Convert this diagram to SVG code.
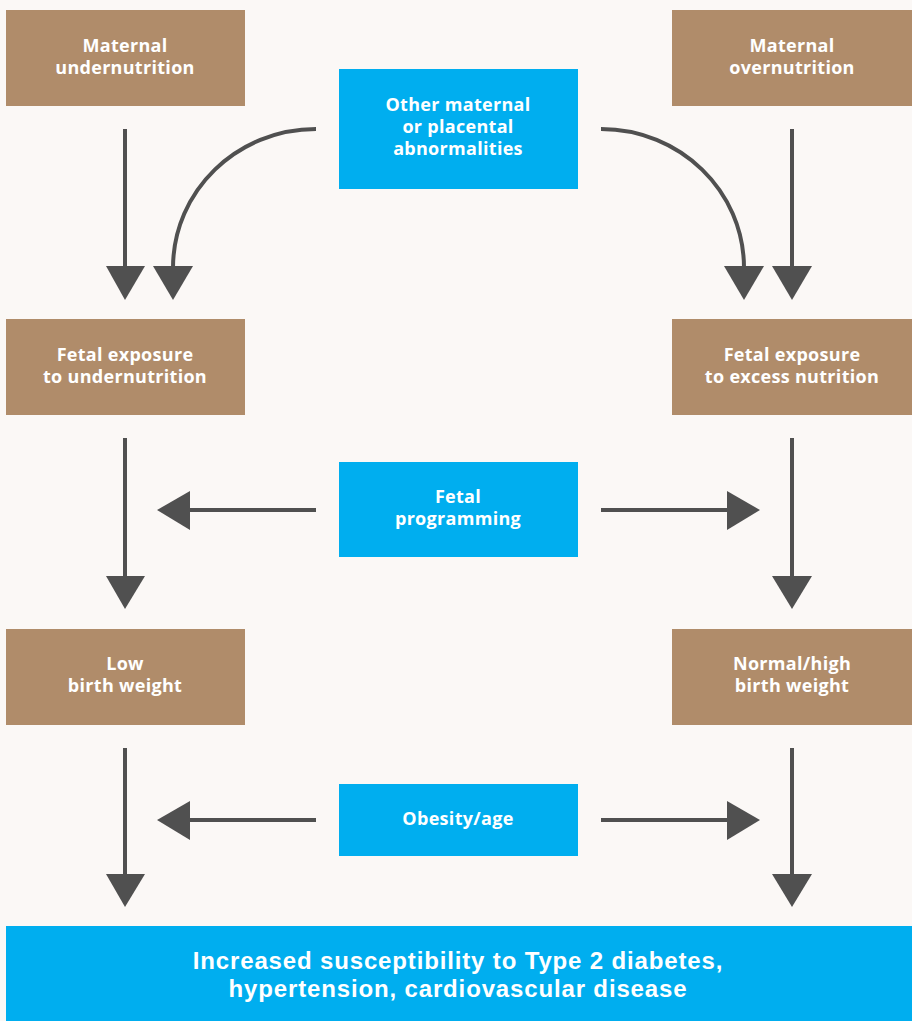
<svg xmlns="http://www.w3.org/2000/svg" width="912" height="1021" viewBox="0 0 912 1021">
  <defs>
    <style>
      .bg { fill: #FBF8F6; }
      .tan { fill: #B08C6A; }
      .blue { fill: #00AEEF; }
      .lbl { font-family: "Open Sans", "Liberation Sans", sans-serif; font-weight: 700; font-size: 18px; letter-spacing: 0.3px; fill: #FFFFFF; text-anchor: middle; }
      .big { font-family: "Liberation Sans", Arial, sans-serif; font-weight: 700; font-size: 24px; letter-spacing: 0.85px; fill: #FFFFFF; text-anchor: middle; }
      .wire { fill: none; stroke: #505050; stroke-width: 4; }
      .head { fill: #505050; }
    </style>
  </defs>

  <rect class="bg" x="0" y="0" width="912" height="1021"/>

  <!-- Connectors -->
  <g id="connectors">
    <!-- left column: maternal undernutrition -> fetal exposure -->
    <line class="wire" x1="125" y1="129" x2="125" y2="268"/>
    <polygon class="head" points="106,266 145,266 125,300"/>
    <!-- curved: other abnormalities -> fetal exposure to undernutrition -->
    <path class="wire" d="M316,129 C237,129 173,191 173,268"/>
    <polygon class="head" points="153,266 193,266 173,300"/>
    <!-- curved: other abnormalities -> fetal exposure to excess nutrition -->
    <path class="wire" d="M601,129 C680,129 744,191 744,268"/>
    <polygon class="head" points="724,266 764,266 744,300"/>
    <!-- right column: maternal overnutrition -> fetal exposure -->
    <line class="wire" x1="792" y1="129" x2="792" y2="268"/>
    <polygon class="head" points="772,266 812,266 792,300"/>

    <!-- row 2 to row 3 -->
    <line class="wire" x1="125" y1="438" x2="125" y2="578"/>
    <polygon class="head" points="106,576 145,576 125,609"/>
    <line class="wire" x1="792" y1="438" x2="792" y2="578"/>
    <polygon class="head" points="772,576 812,576 792,609"/>
    <!-- fetal programming -->
    <line class="wire" x1="316" y1="510" x2="188" y2="510"/>
    <polygon class="head" points="190,491 190,530 157,510"/>
    <line class="wire" x1="601" y1="510" x2="729" y2="510"/>
    <polygon class="head" points="727,491 727,530 760,510"/>

    <!-- row 3 to bottom -->
    <line class="wire" x1="125" y1="748" x2="125" y2="876"/>
    <polygon class="head" points="106,874 145,874 125,907"/>
    <line class="wire" x1="792" y1="748" x2="792" y2="876"/>
    <polygon class="head" points="772,874 812,874 792,907"/>
    <!-- obesity/age -->
    <line class="wire" x1="316" y1="820" x2="188" y2="820"/>
    <polygon class="head" points="190,801 190,840 157,820"/>
    <line class="wire" x1="601" y1="820" x2="729" y2="820"/>
    <polygon class="head" points="727,801 727,840 760,820"/>
  </g>

  <!-- Nodes -->
  <g id="maternal-undernutrition">
    <rect class="tan" x="6" y="10" width="239" height="96"/>
    <text class="lbl" x="125" y="52">Maternal</text>
    <text class="lbl" x="125" y="74">undernutrition</text>
  </g>
  <g id="maternal-overnutrition">
    <rect class="tan" x="672" y="10" width="240" height="96"/>
    <text class="lbl" x="792" y="52">Maternal</text>
    <text class="lbl" x="792" y="74">overnutrition</text>
  </g>
  <g id="other-abnormalities">
    <rect class="blue" x="339" y="69" width="239" height="120"/>
    <text class="lbl" x="458" y="111">Other maternal</text>
    <text class="lbl" x="458" y="133">or placental</text>
    <text class="lbl" x="458" y="155">abnormalities</text>
  </g>
  <g id="fetal-undernutrition">
    <rect class="tan" x="6" y="319" width="239" height="96"/>
    <text class="lbl" x="125" y="361">Fetal exposure</text>
    <text class="lbl" x="125" y="383">to undernutrition</text>
  </g>
  <g id="fetal-excess">
    <rect class="tan" x="672" y="319" width="240" height="96"/>
    <text class="lbl" x="792" y="361">Fetal exposure</text>
    <text class="lbl" x="792" y="383">to excess nutrition</text>
  </g>
  <g id="fetal-programming">
    <rect class="blue" x="339" y="462" width="239" height="95"/>
    <text class="lbl" x="458" y="503">Fetal</text>
    <text class="lbl" x="458" y="525">programming</text>
  </g>
  <g id="low-birth-weight">
    <rect class="tan" x="6" y="629" width="239" height="96"/>
    <text class="lbl" x="125" y="670">Low</text>
    <text class="lbl" x="125" y="692">birth weight</text>
  </g>
  <g id="high-birth-weight">
    <rect class="tan" x="672" y="629" width="240" height="96"/>
    <text class="lbl" x="792" y="670">Normal/high</text>
    <text class="lbl" x="792" y="692">birth weight</text>
  </g>
  <g id="obesity-age">
    <rect class="blue" x="339" y="784" width="239" height="72"/>
    <text class="lbl" x="458" y="825">Obesity/age</text>
  </g>
  <g id="outcome">
    <rect class="blue" x="6" y="926" width="906" height="95"/>
    <text class="big" x="458" y="969">Increased susceptibility to Type 2 diabetes,</text>
    <text class="big" x="458" y="997">hypertension, cardiovascular disease</text>
  </g>
</svg>
